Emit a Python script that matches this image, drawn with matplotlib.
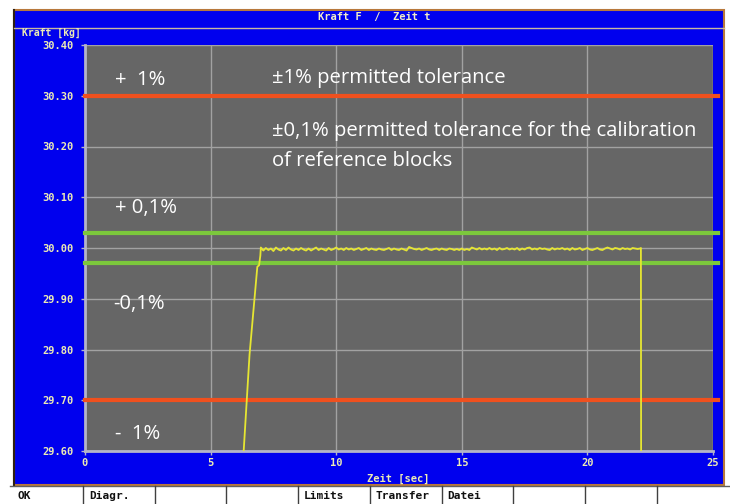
import numpy as np
import matplotlib
matplotlib.use("Agg")
import matplotlib.pyplot as plt
from matplotlib.patches import Rectangle

# ---------------- data ----------------
title = "Kraft F  /  Zeit t"
y_label = "Kraft [kg]"
x_label = "Zeit [sec]"
x_ticks = [0, 5, 10, 15, 20, 25]
y_ticks = [29.60, 29.70, 29.80, 29.90, 30.00, 30.10, 30.20, 30.30, 30.40]
nominal = 30.00
tol_1 = [30.30, 29.70]      # +-1 %
tol_01 = [30.03, 29.97]     # +-0.1 %

# rising edge
rise_t = [6.28, 6.55, 6.86, 6.93, 6.98]
rise_v = [29.57, 29.79, 29.963, 29.966, 29.985]

# plateau: deviations from 30.000 kg in grams, sampled every 0.1 s from 7.0 s
plateau_dev_g = [
    1, -5, 0, -4, -1, -6, 1, -3, -5, 0,
    -4, 1, -3, -5, -1, -4, 0, -3, -5, -1,
    -5, -2, 1, -4, -1, -3, -5, 0, -4, -2,
    1, -3, -1, -4, 0, -3, -1, -4, -2, 0,
    -4, -2, 0, -4, -1, -3, -4, -1, -3, -4,
    -2, 0, -4, -1, -3, -4, -1, -3, -5, 2,
    0, -2, -3, -1, -4, -2, 0, -3, -4, -2,
    -1, -4, -1, -3, -4, -1, -2, -4, -2, -4,
    -1, -4, -2, -4, 1, -1, -3, 0, -3, -1,
    -3, 0, -3, -1, -4, 0, -3, -2, 0, -3,
    -1, -3, 0, -4, -1, -3, 0, 1, -3, -1,
    -3, 0, -2, -1, -3, -4, 0, -3, -1, -2,
    0, -3, -1, -4, 0, -3, -2, 0, -4, -2,
    0, -3, -4, -2, 0, -3, -4, -1, 1, -1,
    -3, 0, -1, -3, 0, -2, -1, -3, 0, -1,
    -2, -1,
]
plateau_t0 = 7.0
plateau_dt = 0.1

# falling edge
fall_t = [22.13, 22.14]
fall_v = [30.000, 29.50]

buttons = ["OK", "Diagr.", "", "", "Limits", "Transfer", "Datei", "", "", ""]

# ---------------- build series ----------------
plat_t = plateau_t0 + plateau_dt * np.arange(len(plateau_dev_g))
plat_v = nominal + np.array(plateau_dev_g) / 1000.0
sig_t = np.concatenate([rise_t, plat_t, fall_t])
sig_v = np.concatenate([rise_v, plat_v, fall_v])

# ---------------- figure ----------------
W, H = 730, 504
fig = plt.figure(figsize=(W / 100, H / 100), dpi=100, facecolor="white")

bg = fig.add_axes([0, 0, 1, 1])
bg.set_xlim(0, W)
bg.set_ylim(H, 0)
bg.axis("off")

BLUE = "#0000ee"
# blue window
bg.add_patch(Rectangle((14, 10), 710, 475, facecolor=BLUE, edgecolor="#b8783c", lw=1.5))
bg.plot([14, 14], [10, 485], color="#302010", lw=1.5)
bg.plot([14, 724], [28, 28], color="#c8b8a0", lw=1)
bg.text(374, 17, title, color="#f2ecc8", fontsize=7.5, fontweight="bold",
        family="DejaVu Sans Mono", ha="center", va="center")
bg.text(22, 33, y_label, color="#ecebb4", fontsize=7, fontweight="bold",
        family="DejaVu Sans Mono", ha="left", va="center")
bg.text(398, 479, x_label, color="#ecebb4", fontsize=7.5, fontweight="bold",
        family="DejaVu Sans Mono", ha="center", va="center")

# button bar
bar_w = 71.7
bg.add_patch(Rectangle((0, 486), W, 18, facecolor="white", edgecolor="none"))
bg.plot([10, W], [486, 486], color="#606060", lw=1)
for i, lab in enumerate(buttons):
    x0 = 12 if i == 0 else 83 + (i - 1) * bar_w
    if i > 0:
        bg.plot([x0, x0], [486, 504], color="#404040", lw=1)
    if lab:
        bg.text(x0 + 6, 496, lab, color="#101010", fontsize=8, fontweight="bold",
                family="DejaVu Sans Mono", ha="left", va="center")

# main plot
x_left, x_right, y_top, y_bot = 85, 713, 45, 451
ax = fig.add_axes([x_left / W, 1 - y_bot / H, (x_right - x_left) / W, (y_bot - y_top) / H])
ax.set_facecolor("#666666")
ax.set_xlim(0, 25)
ax.set_ylim(29.60, 30.40)
ax.set_xticks(x_ticks)
ax.set_yticks(y_ticks)
ax.set_xticklabels([str(v) for v in x_ticks])
ax.set_yticklabels([f"{v:.2f}" for v in y_ticks])
ax.grid(True, color="#a2a2a2", lw=1)
ax.set_axisbelow(True)
for s in ["top", "right"]:
    ax.spines[s].set_visible(False)
for s in ["left", "bottom"]:
    ax.spines[s].set_color("#b4b4c8")
    ax.spines[s].set_linewidth(2)
ax.tick_params(axis="both", colors="#b4b4c8", length=3, width=1)
ax.tick_params(axis="y", pad=5)
ax.tick_params(axis="x", pad=2)
for lab in ax.get_xticklabels() + ax.get_yticklabels():
    lab.set_color("#ecebb4")
    lab.set_fontsize(7.5)
    lab.set_fontweight("bold")
    lab.set_family("DejaVu Sans Mono")

# tolerance lines
for v in tol_1:
    ax.plot([0, 25.2], [v, v], color="#f0501e", lw=3, clip_on=False, zorder=3)
for v in tol_01:
    ax.plot([0, 25.2], [v, v], color="#7cc83c", lw=3, clip_on=False, zorder=3)

# signal
ax.plot(sig_t, sig_v, color="#e6e632", lw=1.3, zorder=4)

# annotations
fs = 14.6
fam = ["Open Sans", "DejaVu Sans"]
ax.text(1.2, 30.332, "+  1%", color="white", fontsize=fs, family=fam, va="center")
ax.text(7.45, 30.334, "\u00b11% permitted tolerance", color="white", fontsize=fs, family=fam, va="center")
ax.text(7.45, 30.231, "\u00b10,1% permitted tolerance for the calibration", color="white",
        fontsize=fs, family=fam, va="center")
ax.text(7.45, 30.172, "of reference blocks", color="white", fontsize=fs, family=fam, va="center")
ax.text(1.2, 30.079, "+ 0,1%", color="white", fontsize=fs, family=fam, va="center")
ax.text(1.12, 29.890, "-0,1%", color="white", fontsize=fs, family=fam, va="center")
ax.text(1.2, 29.634, "-  1%", color="white", fontsize=fs, family=fam, va="center")

fig.savefig("out.png", dpi=100, facecolor="white")
